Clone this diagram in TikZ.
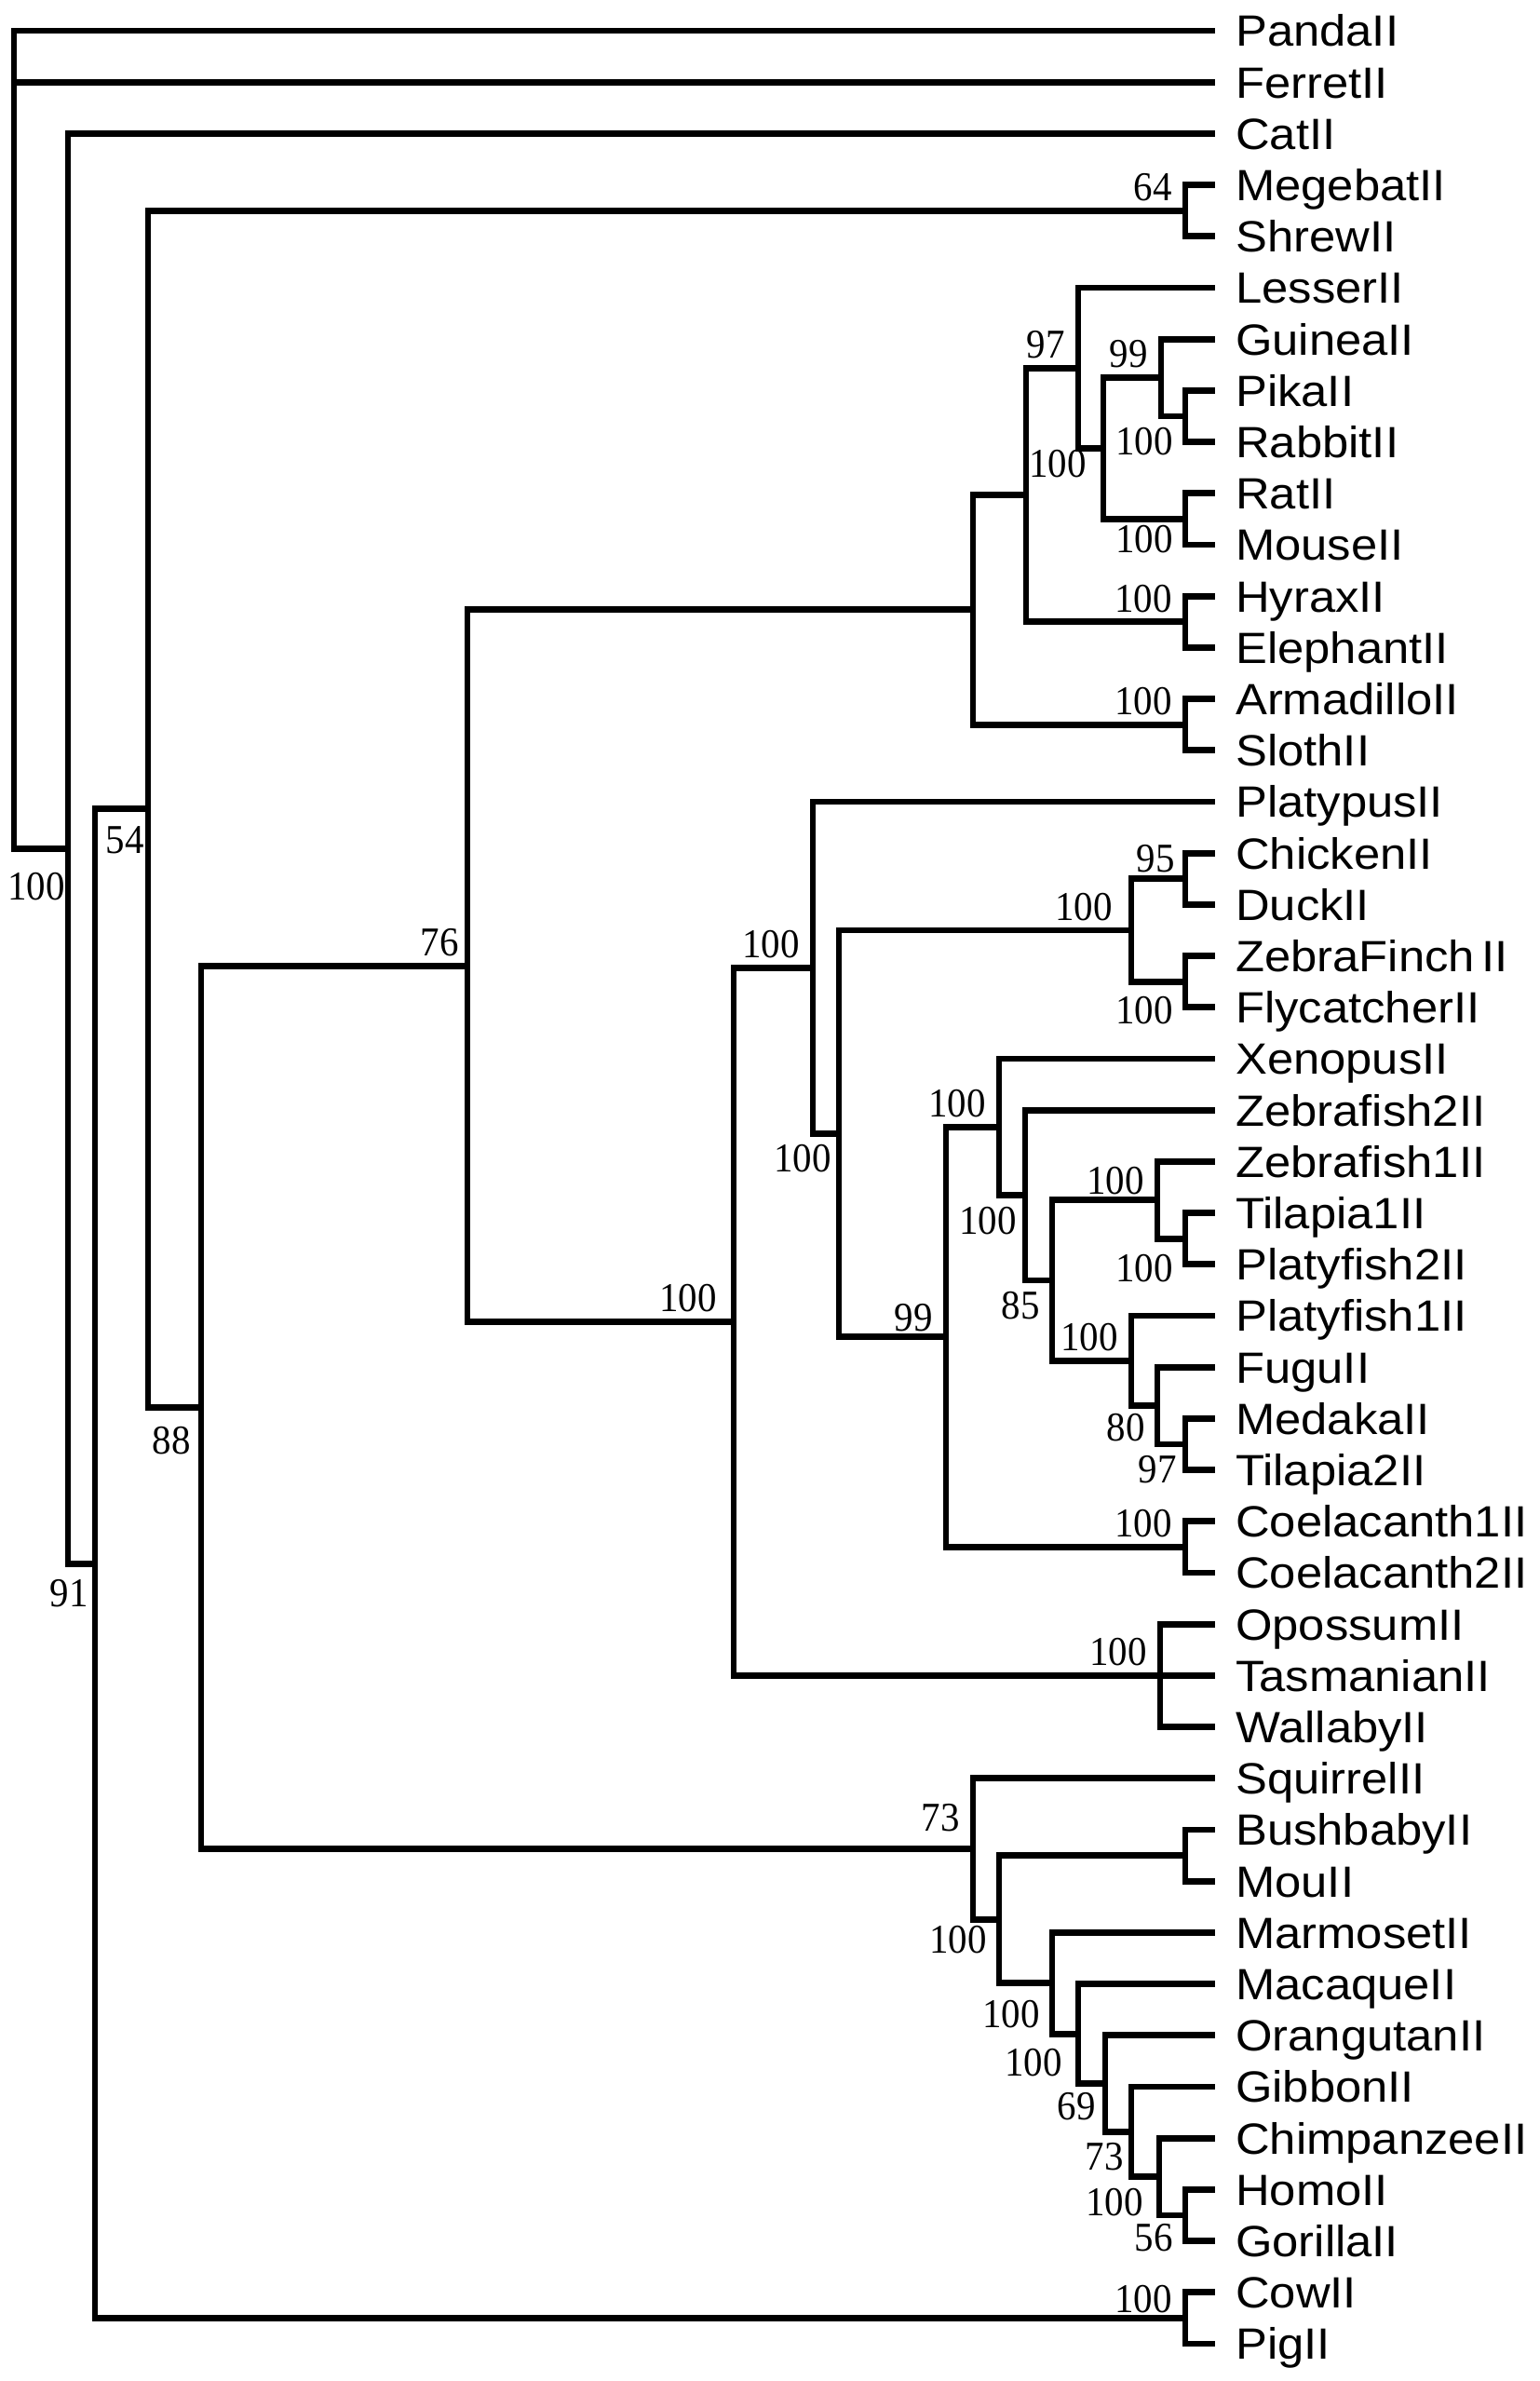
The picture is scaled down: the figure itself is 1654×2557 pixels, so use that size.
\documentclass[tikz,border=0pt]{standalone}
\usepackage{fontspec}
\newfontfamily\taxfont[FakeStretch=1.08]{Liberation Sans}
\newfontfamily\bsfont[FakeStretch=0.93]{Liberation Serif}

\tikzset{
  taxon/.style={anchor=west,inner xsep=22pt,inner ysep=0pt,text height=33.6pt,text depth=0pt,
    font=\taxfont\fontsize{47}{47}\selectfont},
  bsup/.style={anchor=south east,inner sep=0pt,xshift=-14pt,yshift=10pt,
    font=\bsfont\fontsize{44}{44}\selectfont},
  bsdown/.style={anchor=north east,inner sep=0pt,xshift=-13pt,yshift=-12pt,
    font=\bsfont\fontsize{44}{44}\selectfont},
  branch/.style={line width=6.8pt}
}

\begin{document}
\begin{tikzpicture}[x=1pt,y=-1pt]

      \useasboundingbox (0,0) rectangle (1654,2557);

      % leaves
      \begin{scope}[every node/.style=taxon]
        \node (panda)      at (1305,33)     {PandaII};
        \node (ferret)     at (1305,88.2)   {FerretII};
        \node (cat)        at (1305,143.4)  {CatII};
        \node (megebat)    at (1305,198.6)  {MegebatII};
        \node (shrew)      at (1305,253.8)  {ShrewII};
        \node (lesser)     at (1305,309)    {LesserII};
        \node (guinea)     at (1305,364.2)  {GuineaII};
        \node (pika)       at (1305,419.4)  {PikaII};
        \node (rabbit)     at (1305,474.6)  {RabbitII};
        \node (rat)        at (1305,529.8)  {RatII};
        \node (mouse)      at (1305,585)    {MouseII};
        \node (hyrax)      at (1305,640.2)  {HyraxII};
        \node (elephant)   at (1305,695.4)  {ElephantII};
        \node (armadillo)  at (1305,750.6)  {ArmadilloII};
        \node (sloth)      at (1305,805.8)  {SlothII};
        \node (platypus)   at (1305,861)    {PlatypusII};
        \node (chicken)    at (1305,916.2)  {ChickenII};
        \node (duck)       at (1305,971.4)  {DuckII};
        \node (zfinch)     at (1305,1026.6) {ZebraFinch\,II};
        \node (flycatcher) at (1305,1081.8) {FlycatcherII};
        \node (xenopus)    at (1305,1137)   {XenopusII};
        \node (zfish2)     at (1305,1192.2) {Zebrafish2II};
        \node (zfish1)     at (1305,1247.4) {Zebrafish1II};
        \node (tilapia1)   at (1305,1302.6) {Tilapia1II};
        \node (platy2)     at (1305,1357.8) {Platyfish2II};
        \node (platy1)     at (1305,1413)   {Platyfish1II};
        \node (fugu)       at (1305,1468.2) {FuguII};
        \node (medaka)     at (1305,1523.4) {MedakaII};
        \node (tilapia2)   at (1305,1578.6) {Tilapia2II};
        \node (coel1)      at (1305,1633.8) {Coelacanth1II};
        \node (coel2)      at (1305,1689)   {Coelacanth2II};
        \node (opossum)    at (1305,1744.2) {OpossumII};
        \node (tasmanian)  at (1305,1799.4) {TasmanianII};
        \node (wallaby)    at (1305,1854.6) {WallabyII};
        \node (squirrel)   at (1305,1909.8) {SquirrelII};
        \node (bushbaby)   at (1305,1965)   {BushbabyII};
        \node (mou)        at (1305,2020.2) {MouII};
        \node (marmoset)   at (1305,2075.4) {MarmosetII};
        \node (macaque)    at (1305,2130.6) {MacaqueII};
        \node (orangutan)  at (1305,2185.8) {OrangutanII};
        \node (gibbon)     at (1305,2241)   {GibbonII};
        \node (chimp)      at (1305,2296.2) {ChimpanzeeII};
        \node (homo)       at (1305,2351.4) {HomoII};
        \node (gorilla)    at (1305,2406.6) {GorillaII};
        \node (cow)        at (1305,2461.8) {CowII};
        \node (pig)        at (1305,2517)   {PigII};
      \end{scope}

      % inner nodes
      \coordinate (root)     at (15,911.25);
      \coordinate (ncat)     at (73,911.25);
      \coordinate (n91)      at (102,1679.1);
      \coordinate (n54)      at (159,868.75);
      \coordinate (nbat)     at (1273,226.2);
      \coordinate (n88)      at (216,1511.3);
      \coordinate (n76)      at (502,1037.1);
      \coordinate (nafro)    at (1045,654.85);
      \coordinate (n97)      at (1102,531.5);
      \coordinate (nglires)  at (1158,395.25);
      \coordinate (nsub)     at (1185,481.5);
      \coordinate (nguinea)  at (1247,405.6);
      \coordinate (npika)    at (1273,447);
      \coordinate (nrat)     at (1273,557.4);
      \coordinate (nhyrax)   at (1273,667.8);
      \coordinate (narma)    at (1273,778.2);
      \coordinate (namniote) at (788,1419.3);
      \coordinate (ntetra)   at (873,1039.2);
      \coordinate (nrest)    at (901,1217.4);
      \coordinate (nbirds)   at (1215,999);
      \coordinate (nchick)   at (1273,943.8);
      \coordinate (nfinch)   at (1273,1054.2);
      \coordinate (nfish)    at (1016,1435.85);
      \coordinate (nxeno)    at (1073,1210.3);
      \coordinate (nteleo)   at (1101,1283.6);
      \coordinate (n85)      at (1130,1375.05);
      \coordinate (nzfish)   at (1243,1288.8);
      \coordinate (ntila)    at (1273,1330.2);
      \coordinate (nplaty)   at (1215,1461.3);
      \coordinate (n80)      at (1243,1509.6);
      \coordinate (nmedaka)  at (1273,1551);
      \coordinate (ncoel)    at (1273,1661.4);
      \coordinate (nmarsup)  at (1246,1799.4);
      \coordinate (nprim)    at (1045,1985.5);
      \coordinate (neuarch)  at (1073,2061.2);
      \coordinate (nbush)    at (1273,1992.6);
      \coordinate (nmarm)    at (1130,2129.75);
      \coordinate (nmaca)    at (1158,2184.1);
      \coordinate (norang)   at (1187,2237.55);
      \coordinate (ngibbon)  at (1215,2289.3);
      \coordinate (nchimp)   at (1245,2337.6);
      \coordinate (nhomo)    at (1273,2379);
      \coordinate (ncow)     at (1273,2489.4);

      % branches
      \draw[branch] (panda) -| (root) -- (ncat);
      \begin{scope}[every edge/.style={draw,branch,to path={|- (\tikztotarget)}}]
        \path (root)     edge (ferret);
        \path (ncat)     edge (cat)       edge (n91);
        \path (n91)      edge (n54)       edge (ncow);
        \path (n54)      edge (nbat)      edge (n88);
        \path (nbat)     edge (megebat)   edge (shrew);
        \path (n88)      edge (n76)       edge (nprim);
        \path (n76)      edge (nafro)     edge (namniote);
        \path (nafro)    edge (n97)       edge (narma);
        \path (n97)      edge (nglires)   edge (nhyrax);
        \path (nglires)  edge (lesser)    edge (nsub);
        \path (nsub)     edge (nguinea)   edge (nrat);
        \path (nguinea)  edge (guinea)    edge (npika);
        \path (npika)    edge (pika)      edge (rabbit);
        \path (nrat)     edge (rat)       edge (mouse);
        \path (nhyrax)   edge (hyrax)     edge (elephant);
        \path (narma)    edge (armadillo) edge (sloth);
        \path (namniote) edge (ntetra)    edge (nmarsup);
        \path (ntetra)   edge (platypus)  edge (nrest);
        \path (nrest)    edge (nbirds)    edge (nfish);
        \path (nbirds)   edge (nchick)    edge (nfinch);
        \path (nchick)   edge (chicken)   edge (duck);
        \path (nfinch)   edge (zfinch)    edge (flycatcher);
        \path (nfish)    edge (nxeno)     edge (ncoel);
        \path (nxeno)    edge (xenopus)   edge (nteleo);
        \path (nteleo)   edge (zfish2)    edge (n85);
        \path (n85)      edge (nzfish)    edge (nplaty);
        \path (nzfish)   edge (zfish1)    edge (ntila);
        \path (ntila)    edge (tilapia1)  edge (platy2);
        \path (nplaty)   edge (platy1)    edge (n80);
        \path (n80)      edge (fugu)      edge (nmedaka);
        \path (nmedaka)  edge (medaka)    edge (tilapia2);
        \path (ncoel)    edge (coel1)     edge (coel2);
        \path (nmarsup)  edge (opossum)   edge (tasmanian) edge (wallaby);
        \path (nprim)    edge (squirrel)  edge (neuarch);
        \path (neuarch)  edge (nbush)     edge (nmarm);
        \path (nbush)    edge (bushbaby)  edge (mou);
        \path (nmarm)    edge (marmoset)  edge (nmaca);
        \path (nmaca)    edge (macaque)   edge (norang);
        \path (norang)   edge (orangutan) edge (ngibbon);
        \path (ngibbon)  edge (gibbon)    edge (nchimp);
        \path (nchimp)   edge (chimp)     edge (nhomo);
        \path (nhomo)    edge (homo)      edge (gorilla);
        \path (ncow)     edge (cow)       edge (pig);
      \end{scope}

      % bootstrap values
      \node[bsup] (b64)      at (nbat)     {64};
      \node[bsup] (b97)      at (nglires)  {97};
      \node[bsup] (b99)      at (nguinea)  {99};
      \node[bsup] (bhyrax)   at (nhyrax)   {100};
      \node[bsup] (barma)    at (narma)    {100};
      \node[bsup,xshift=5pt] (b76) at (n76) {76};
      \node[bsup,xshift=-4pt] (bamniote) at (namniote) {100};
      \node[bsup] (btetra)   at (ntetra)   {100};
      \node[bsup,xshift=-6pt] (bbirds) at (nbirds) {100};
      \node[bsup,xshift=3pt,yshift=-3pt] (b95) at (nchick) {95};
      \node[bsup,yshift=-4pt] (b99fish) at (nfish) {99};
      \node[bsup] (bxeno)    at (nxeno)    {100};
      \node[bsup,yshift=-4pt] (bzfish) at (nzfish) {100};
      \node[bsup] (bplaty)   at (nplaty)   {100};
      \node[bsup] (bcoel)    at (ncoel)    {100};
      \node[bsup] (bmarsup)  at (nmarsup)  {100};
      \node[bsup,yshift=8pt] (b73prim) at (nprim) {73};
      \node[bsup,yshift=-5pt] (bcow) at (ncow) {100};

      \node[bsdown,xshift=10pt,yshift=-14pt] (bcat) at (ncat) {100};
      \node[bsdown,xshift=6pt,yshift=-5pt]  (b91)  at (n91)  {91};
      \node[bsdown,xshift=9pt,yshift=-7pt]  (b54)  at (n54)  {54};
      \node[bsdown,xshift=2pt,yshift=-9pt]  (b88)  at (n88)  {88};
      \node[bsdown,xshift=-5pt,yshift=10pt] (bsub) at (nsub) {100};
      \node[bsdown] (bpika)    at (npika)    {100};
      \node[bsdown,yshift=5pt] (brat) at (nrat) {100};
      \node[bsdown,xshift=5pt] (brest) at (nrest) {100};
      \node[bsdown,yshift=-4pt] (bfinch) at (nfinch) {100};
      \node[bsdown,xshift=4pt] (bteleo) at (nteleo) {100};
      \node[bsdown] (b85)      at (n85)      {85};
      \node[bsdown,yshift=-5pt] (btila) at (ntila) {100};
      \node[bsdown,yshift=4pt] (b80) at (n80) {80};
      \node[bsdown,xshift=4pt] (b97fish) at (nmedaka) {97};
      \node[bsdown,yshift=5pt] (beuarch) at (neuarch) {100};
      \node[bsdown,yshift=-6pt] (bmarm) at (nmarm) {100};
      \node[bsdown,xshift=-4pt,yshift=-4pt] (bmaca) at (nmaca) {100};
      \node[bsdown,xshift=3pt,yshift=2pt] (b69) at (norang) {69};
      \node[bsdown,xshift=5pt] (b73) at (ngibbon) {73};
      \node[bsdown,xshift=-4pt] (bchimp) at (nchimp) {100};
      \node[bsdown,yshift=3pt] (b56) at (nhomo) {56};

\end{tikzpicture}
\end{document}
